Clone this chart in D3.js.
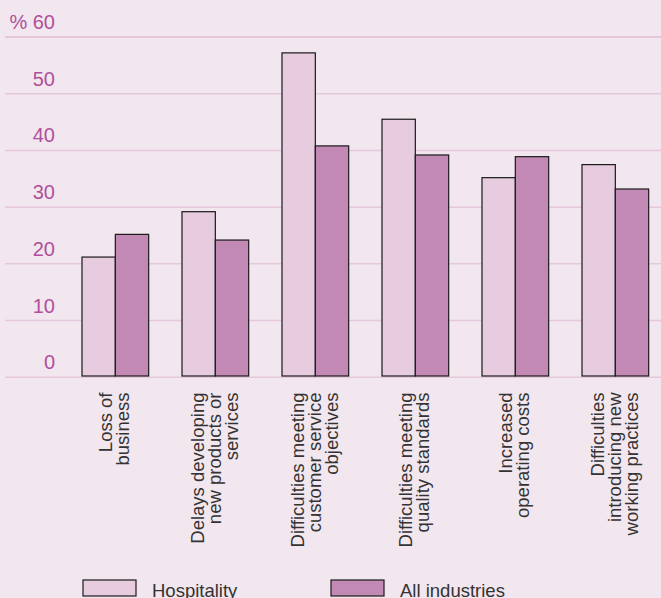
<!DOCTYPE html>
<html>
<head>
<meta charset="utf-8">
<script src="https://cdn.jsdelivr.net/npm/d3@7"></script>
<style>
  html, body { margin: 0; padding: 0; background: #f2e6ef; }
  svg { display: block; }
  text { font-family: "Liberation Sans", Arial, Helvetica, sans-serif; }
</style>
</head>
<body>
<svg id="chart" width="661" height="598"></svg>
<script>
// Problems caused by skill gaps, % of establishments
const categories = [
  "Loss of business",
  "Delays developing new products or services",
  "Difficulties meeting customer service objectives",
  "Difficulties meeting quality standards",
  "Increased operating costs",
  "Difficulties introducing new working practices"
];
const categoryLines = [
  ["Loss of", "business"],
  ["Delays developing", "new products or", "services"],
  ["Difficulties meeting", "customer service", "objectives"],
  ["Difficulties meeting", "quality standards"],
  ["Increased", "operating costs"],
  ["Difficulties", "introducing new", "working practices"]
];
const seriesNames = ["Hospitality", "All industries"];
const hospitality = [21.2, 29.2, 57.2, 45.5, 35.2, 37.5];
const allIndustries = [25.2, 24.2, 40.8, 39.2, 38.9, 33.2];
const yTicks = [0, 10, 20, 30, 40, 50, 60];

const colors = { "Hospitality": "#e7cce0", "All industries": "#c189b3" };

const svg = d3.select("#chart");
const W = 661, H = 598;

svg.append("rect").attr("width", W).attr("height", H).attr("fill", "#f2e6ef");

const y = d3.scaleLinear().domain([0, 60]).range([377.3, 37]);
const x = d3.scaleBand().domain(categories).range([65.33, 665.33])
  .paddingInner(1 / 3).paddingOuter(1 / 6);
const xs = d3.scaleBand().domain(seriesNames).range([0, x.bandwidth()]);

// horizontal gridlines
svg.append("g").selectAll("line").data(yTicks).join("line")
  .attr("x1", 5).attr("x2", W)
  .attr("y1", d => y(d)).attr("y2", d => y(d))
  .attr("stroke", d => d === 60 ? "#dfbcd5" : "#e5c8dc")
  .attr("stroke-width", 1.5);

// tick labels above each gridline
svg.append("g").selectAll("text").data(yTicks).join("text")
  .attr("x", 55).attr("y", d => y(d) - 8)
  .attr("text-anchor", "end")
  .attr("font-size", 20)
  .attr("fill", "#b0509a")
  .text(d => d === 60 ? "% 60" : d);

// grouped bars
const rows = categories.map((c, i) => ({
  cat: c,
  vals: [
    { s: "Hospitality", v: hospitality[i] },
    { s: "All industries", v: allIndustries[i] }
  ]
}));

const groups = svg.append("g").selectAll("g").data(rows).join("g")
  .attr("transform", d => `translate(${x(d.cat)},0)`);

groups.selectAll("rect").data(d => d.vals).join("rect")
  .attr("x", d => xs(d.s))
  .attr("width", xs.bandwidth())
  .attr("y", d => y(d.v))
  .attr("height", d => y(0) - 1.3 - y(d.v))
  .attr("fill", d => colors[d.s])
  .attr("stroke", "#1a1a1a")
  .attr("stroke-width", 1.2);

// rotated category labels
const lineGap = 17;
const labels = svg.append("g").selectAll("text").data(categories).join("text")
  .attr("transform", d => `translate(${x(d) + x.bandwidth() / 2},392.5) rotate(-90)`)
  .attr("text-anchor", "end")
  .attr("font-size", 18.5)
  .attr("fill", "#333333");

labels.each(function (d, i) {
  const lines = categoryLines[i];
  const n = lines.length;
  d3.select(this).selectAll("tspan").data(lines).join("tspan")
    .attr("x", 0)
    .attr("y", (l, j) => (j - (n - 1) / 2) * lineGap + 5.5)
    .text(l => l);
});

// legend
const legend = svg.append("g").selectAll("g").data(seriesNames).join("g")
  .attr("transform", (d, i) => `translate(${83 + i * 248},580)`);
legend.append("rect")
  .attr("width", 53).attr("height", 16)
  .attr("fill", d => colors[d])
  .attr("stroke", "#1a1a1a").attr("stroke-width", 1.2);
legend.append("text")
  .attr("x", 69).attr("y", 17)
  .attr("font-size", 18.5)
  .attr("fill", "#333333")
  .text(d => d);
</script>
</body>
</html>
